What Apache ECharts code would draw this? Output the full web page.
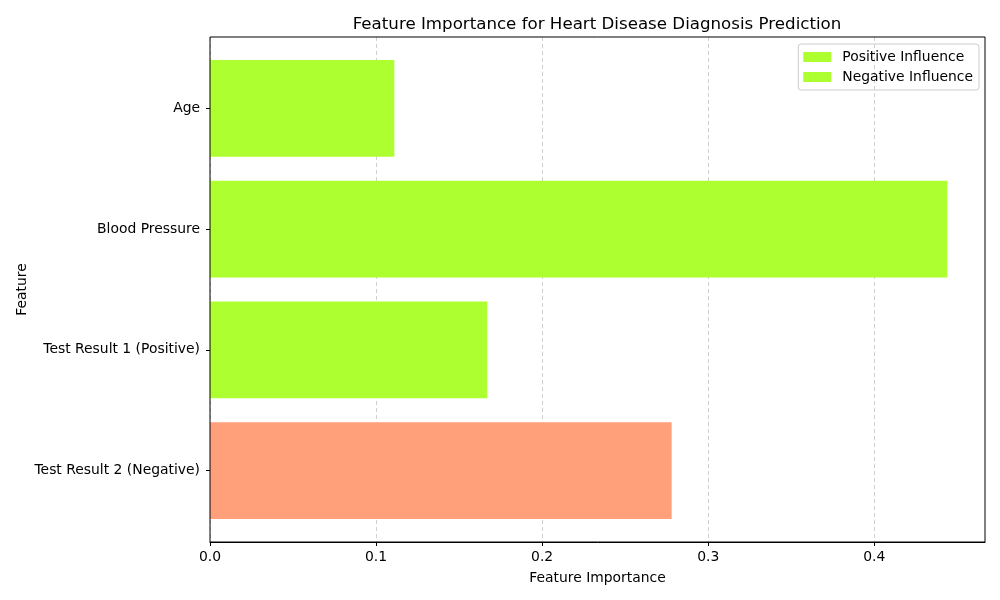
<!DOCTYPE html>
<html>
<head>
<meta charset="utf-8">
<script src="https://cdn.jsdelivr.net/npm/echarts@6/dist/echarts.min.js"></script>
<style>
  html, body { margin: 0; padding: 0; background: #fff; }
  #main { width: 1000px; height: 600px; }
</style>
</head>
<body>
<div id="main"></div>
<script>
// data
var features = ['Age', 'Blood Pressure', 'Test Result 1 (Positive)', 'Test Result 2 (Negative)'];
var importance = [0.111, 0.444, 0.167, 0.278];
var barColors = ['#adff2f', '#adff2f', '#adff2f', '#ffa07a'];
var xTicks = [0, 0.1, 0.2, 0.3, 0.4];
var xMax = 0.4667;

var font = 'DejaVu Sans';

var barData = [];
for (var i = 0; i < features.length; i++) {
    barData.push({ value: importance[i], itemStyle: { color: barColors[i] } });
}

var myChart = echarts.init(document.getElementById('main'));
var option = {
    backgroundColor: '#fff',
    textStyle: { fontFamily: font },
    title: {
        text: 'Feature Importance for Heart Disease Diagnosis Prediction',
        left: 592,
        top: 11,
        textAlign: 'center',
        textStyle: { fontFamily: font, fontSize: 16.67, fontWeight: 'normal', color: '#000' }
    },
    legend: {
        orient: 'vertical',
        right: 21,
        top: 44,
        icon: 'rect',
        itemWidth: 28,
        itemHeight: 10,
        itemGap: 6,
        padding: [6, 6, 6, 5],
        borderColor: '#cccccc',
        borderWidth: 1,
        borderRadius: 3,
        textStyle: { fontFamily: font, fontSize: 13.9, color: '#000', padding: [0, 0, 0, 6] },
        data: [
            { name: 'Positive Influence', itemStyle: { color: '#adff2f' } },
            { name: 'Negative Influence', itemStyle: { color: '#adff2f' } }
        ]
    },
    grid: [
        // plot frame, drawn above split lines and bars like matplotlib spines
        { left: 210, right: 15, top: 37, bottom: 58, show: true, z: 10, borderColor: '#000', borderWidth: 1, containLabel: false },
        // bars area (matplotlib margins on the category axis)
        { left: 210, right: 15, top: 48, bottom: 69, containLabel: false }
    ],
    xAxis: [
        {
            gridIndex: 0,
            type: 'value',
            min: 0,
            max: xMax,
            interval: 0.1,
            name: 'Feature Importance',
            nameLocation: 'middle',
            nameGap: 29,
            nameTextStyle: { fontFamily: font, fontSize: 13.9, color: '#000' },
            axisLine: { show: true, lineStyle: { color: '#000', width: 1 } },
            axisTick: { show: true, length: 4, lineStyle: { color: '#000' }, customValues: xTicks },
            axisLabel: {
                color: '#000', fontSize: 13.9, fontFamily: font, margin: 8,
                customValues: xTicks,
                formatter: function (v) { return v.toFixed(1); }
            },
            splitLine: { show: true, lineStyle: { color: '#d0d0d0', type: [4, 3], width: 1 } }
        },
        {
            gridIndex: 1,
            type: 'value',
            min: 0,
            max: xMax,
            show: false
        }
    ],
    yAxis: [
        {
            gridIndex: 0,
            type: 'value',
            show: false,
            splitLine: { show: false }
        },
        {
            gridIndex: 1,
            type: 'category',
            inverse: true,
            data: features,
            name: 'Feature',
            nameLocation: 'middle',
            nameGap: 181,
            nameRotate: 90,
            nameMoveOverlap: false,
            nameTextStyle: { fontFamily: font, fontSize: 13.9, color: '#000' },
            axisLine: { show: false },
            axisTick: { show: true, alignWithLabel: true, length: 4, lineStyle: { color: '#000' } },
            axisLabel: { color: '#000', fontSize: 13.9, fontFamily: font, margin: 10 },
            splitLine: { show: false }
        }
    ],
    series: [
        {
            name: 'Positive Influence',
            type: 'bar',
            xAxisIndex: 1,
            yAxisIndex: 1,
            stack: 'imp',
            barWidth: '80%',
            itemStyle: { color: '#adff2f' },
            data: barData
        },
        {
            name: 'Negative Influence',
            type: 'bar',
            xAxisIndex: 1,
            yAxisIndex: 1,
            stack: 'imp',
            barWidth: '80%',
            itemStyle: { color: '#adff2f' },
            data: []
        }
    ]
};
myChart.setOption(option);
</script>
</body>
</html>
